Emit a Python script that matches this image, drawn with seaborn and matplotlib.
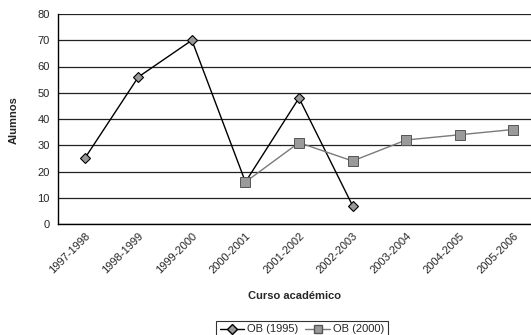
import numpy as np
import pandas as pd
import matplotlib
matplotlib.use("Agg")
import matplotlib.pyplot as plt
import seaborn as sns
from matplotlib.lines import Line2D

cursos = ["1997-1998", "1998-1999", "1999-2000", "2000-2001", "2001-2002",
          "2002-2003", "2003-2004", "2004-2005", "2005-2006"]
ob_1995 = [25, 56, 70, 16, 48, 7, np.nan, np.nan, np.nan]
ob_2000 = [np.nan, np.nan, np.nan, 16, 31, 24, 32, 34, 36]

sns.set_style("white")
plt.rcParams["font.family"] = ["Liberation Sans", "DejaVu Sans"]
plt.rcParams["font.size"] = 8

df = pd.DataFrame({"x": np.arange(len(cursos)), "ob95": ob_1995, "ob00": ob_2000})

fig = plt.figure(figsize=(5.31, 3.35), dpi=100)
# plot area runs past the right edge, like the scanned original
ax = fig.add_axes([58 / 531, 111 / 335, (540 - 58) / 531, 210 / 335])

sns.lineplot(data=df, x="x", y="ob95", ax=ax, color="black", lw=1.0,
             marker="D", markersize=5.5, markerfacecolor="#999999",
             markeredgecolor="black", markeredgewidth=0.8)
# square markers sit on top of the diamond at 2000-2001
sns.lineplot(data=df, x="x", y="ob00", ax=ax, color="#7a7a7a", lw=1.0,
             marker="s", markersize=6.5, markerfacecolor="#9a9a9a",
             markeredgecolor="#555555", markeredgewidth=0.7)

ax.set_xlim(-0.5, len(cursos) - 0.5)
ax.set_ylim(0, 80)
ax.set_yticks(range(0, 81, 10))
ax.yaxis.grid(True, color="#222222", lw=0.9)
ax.xaxis.grid(False)
for s in ["top", "right"]:
    ax.spines[s].set_visible(False)
ax.spines["left"].set_color("black")
ax.spines["bottom"].set_color("black")
ax.spines["left"].set_linewidth(1.0)
ax.spines["bottom"].set_linewidth(1.0)

ax.set_xticks(np.arange(len(cursos)))
ax.set_xticklabels(cursos, rotation=45, ha="right", rotation_mode="anchor")
ax.set_xticks(np.arange(-0.5, len(cursos)), minor=True)
ax.tick_params(axis="x", which="major", length=0, pad=5, labelsize=8)
ax.tick_params(axis="x", which="minor", length=4, width=0.8, color="black", direction="out")
ax.tick_params(axis="y", length=4, width=0.8, color="black", direction="out", labelsize=8, pad=2)

ax.set_xlabel("")
ax.set_ylabel("")
fig.text(14 / 531, 1 - 120 / 335, "Alumnos", rotation=90, ha="center", va="center",
         fontsize=8, fontweight="bold")
fig.text(295 / 531, 1 - 296 / 335, "Curso académico", ha="center", va="center",
         fontsize=8, fontweight="bold")

handles = [
    Line2D([], [], color="black", lw=1.0, marker="D", markersize=5,
           markerfacecolor="#999999", markeredgecolor="black"),
    Line2D([], [], color="#7a7a7a", lw=1.0, marker="s", markersize=5.5,
           markerfacecolor="#9a9a9a", markeredgecolor="#555555"),
]
leg = fig.legend(handles, ["OB (1995)", "OB (2000)"], ncol=2, loc="upper center",
                 bbox_to_anchor=(302 / 531, 1 - 315 / 335), frameon=True,
                 fancybox=False, edgecolor="black", fontsize=8, numpoints=1,
                 handlelength=2.2, columnspacing=0.6, handletextpad=0.3,
                 borderpad=0.35)
leg.get_frame().set_linewidth(0.8)

fig.savefig("out.png", dpi=100)
